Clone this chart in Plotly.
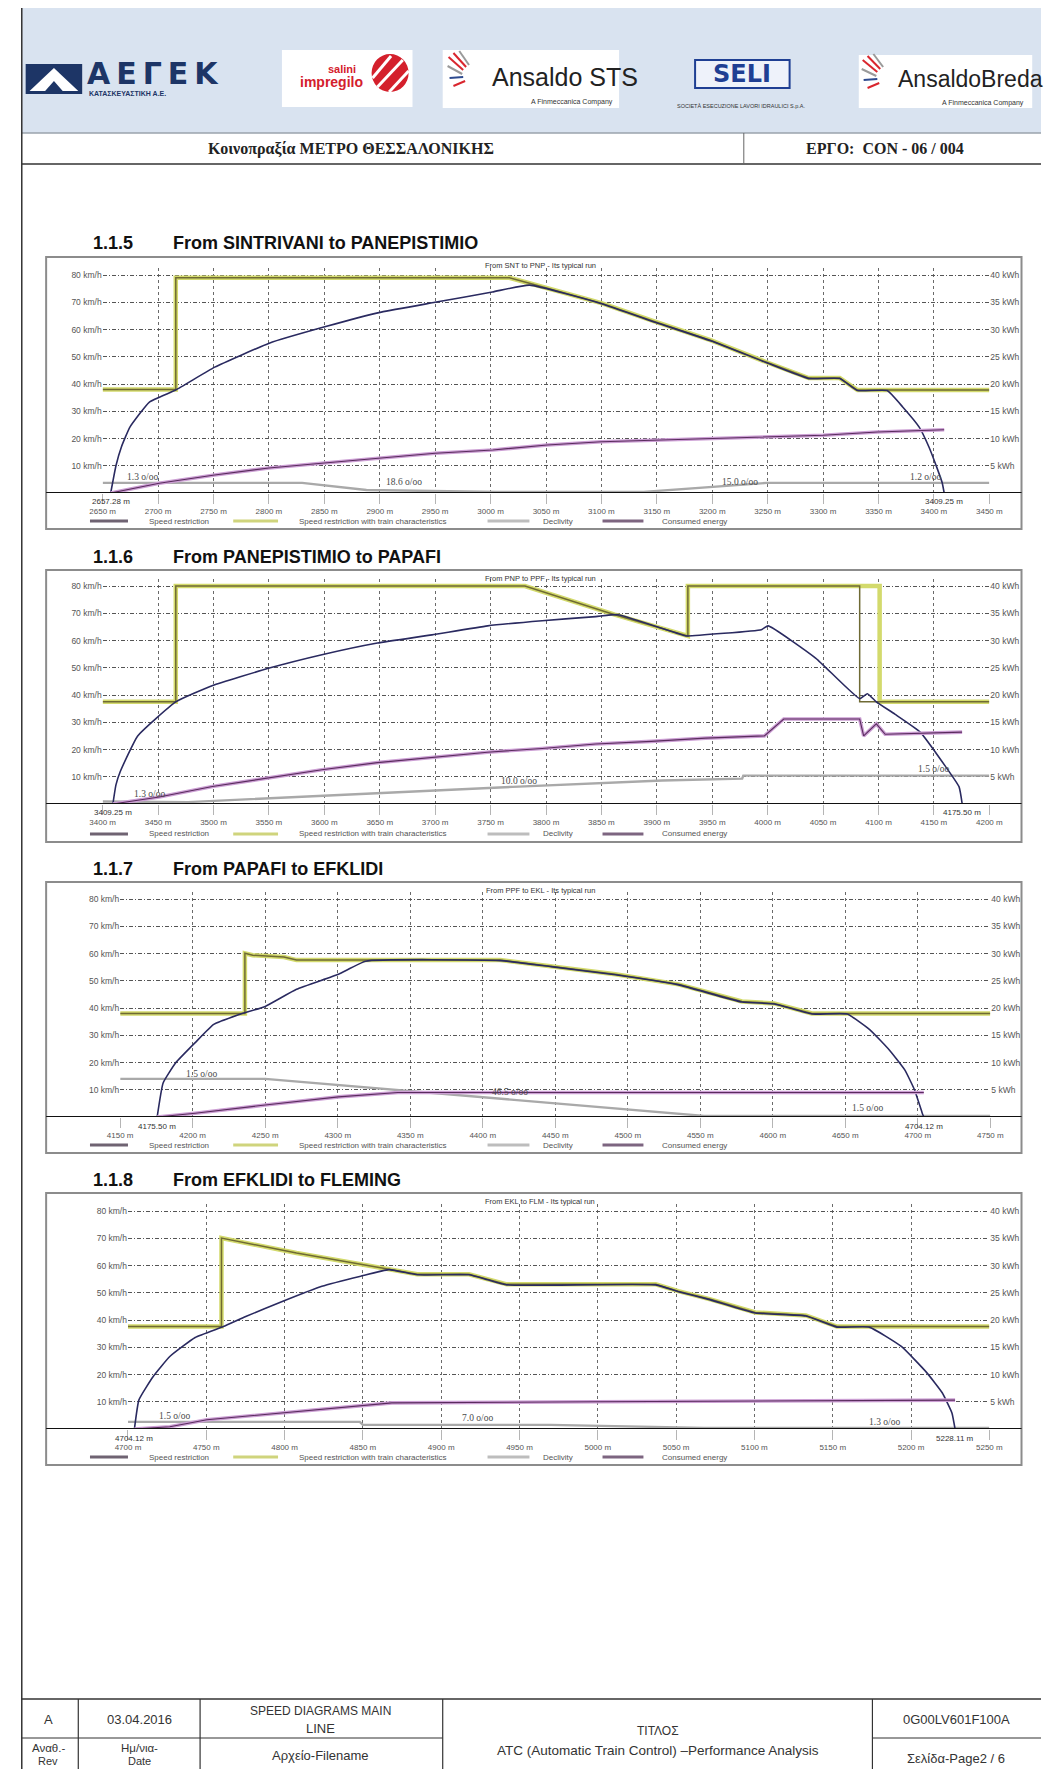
import plotly.graph_objects as go

W, H = 1055, 1769


def PX(x):
    return x / W


def PY(y):
    return 1 - y / H


# ===================== DATA =====================
# ---- 1.1.5 From SINTRIVANI to PANEPISTIMIO ----
c1_ticks = list(range(2650, 3451, 50))
c1_start, c1_end = 2657.28, 3409.25
c1_restr_d = [2650, 2716, 2716, 3017, 3035, 3100, 3149, 3199, 3249, 3287, 3315, 3331, 3450]
c1_restr_v = [38, 38, 79, 79, 77, 69.7, 62.8, 56, 48, 42.2, 42.2, 37.8, 37.8]
c1_sr_d = c1_restr_d
c1_sr_v = c1_restr_v
c1_speed_d = [2657.28, 2662, 2667, 2674.6, 2692.2, 2715.9, 2751.1, 2800.3, 2850.4, 2901.4, 2949.8, 3001.6, 3035,
              3100, 3149, 3199, 3249, 3287, 3315, 3331, 3357.7, 3371.8, 3386.7, 3395.5, 3402.5, 3407.5, 3409.25]
c1_speed_v = [0, 10, 17, 24.2, 33.4, 37.8, 46.2, 55, 61, 66.4, 70, 73.8, 76.3,
              69.5, 62.6, 55.8, 47.8, 42, 42, 37.6, 37.6, 31.6, 24.2, 16.9, 9.5, 3.7, 0]
c1_energy_d = [2657.28, 2701, 2751, 2800, 2850, 2901, 2950, 3002, 3051, 3100, 3149, 3199, 3249, 3300, 3349, 3409.25]
c1_energy_v = [0, 1.8, 3.3, 4.6, 5.5, 6.4, 7.3, 7.9, 8.8, 9.4, 9.7, 9.9, 10.3, 10.6, 11.2, 11.6]
c1_decl_d = [2650, 2830, 2888, 3006, 3138, 3199, 3249, 3450]
c1_decl_v = [3.7, 3.7, 1.1, 0.4, 0.4, 2.2, 3.7, 3.7]
c1_decl_labels = ["1.3 o/oo", "18.6 o/oo", "15.0 o/oo", "1.2 o/oo"]
c1_decl_label_d = [2686, 2922, 3225, 3392]
c1_decl_label_v = [6, 4, 4, 6]

# ---- 1.1.6 From PANEPISTIMIO to PAPAFI ----
c2_ticks = list(range(3400, 4201, 50))
c2_start, c2_end = 3409.25, 4175.50
c2_restr_d = [3400, 3466, 3466, 3781, 3862, 3926, 3928, 3928, 4101, 4101, 4200]
c2_restr_v = [37.5, 37.5, 80, 80, 69.5, 61.7, 61.7, 80, 80, 37.5, 37.5]
c2_sr_d = [3400, 3466, 3466, 3781, 3862, 3926, 3928, 3928, 4083, 4083, 4200]
c2_sr_v = [37.5, 37.5, 80, 80, 69.5, 61.7, 61.7, 80, 80, 37.5, 37.5]
c2_speed_d = [3409.25, 3412, 3416, 3431.6, 3466, 3499.3, 3549.5, 3597.8, 3647.9, 3697.1, 3747.3, 3796.5, 3844.8,
              3865, 3926, 3928, 3994.3, 4000.4, 4043.5, 4083, 4090, 4098, 4114.7, 4137.6, 4160.4, 4172.7, 4175.5]
c2_speed_v = [0, 7, 12, 25, 37.5, 43.5, 49.8, 54.8, 59.1, 62.1, 65.4, 67.3, 68.8,
              69.5, 61.7, 61.7, 64, 65.4, 53.5, 38.7, 40.5, 37.5, 33, 26.4, 13.8, 6.3, 0]
c2_energy_d = [3409.25, 3451, 3499, 3549.5, 3597.8, 3647.9, 3697, 3747, 3796.5, 3844.8, 3895, 3944, 3997,
               4014.5, 4083, 4086.6, 4098, 4106, 4175.4]
c2_energy_v = [0, 1.3, 3.2, 4.8, 6.3, 7.6, 8.6, 9.5, 10.2, 11.0, 11.5, 12.1, 12.5,
               15.6, 15.6, 12.5, 14.7, 12.8, 13.2]
c2_decl_d = [3400, 3477, 3770, 3905, 3977, 3978, 4200]
c2_decl_v = [0.9, 0.7, 6.3, 8.6, 9.3, 10.4, 10.4]
c2_decl_labels = ["1.3 o/oo", "10.0 o/oo", "1.5 o/oo"]
c2_decl_label_d = [3442, 3776, 4150]
c2_decl_label_v = [3.5, 8.4, 12.8]

# ---- 1.1.7 From PAPAFI to EFKLIDI ----
c3_ticks = list(range(4150, 4751, 50))
c3_start, c3_end = 4175.50, 4704.12
c3_restr_d = [4150, 4236, 4236, 4241.4, 4262.9, 4271.6, 4412, 4447, 4491.4, 4535, 4578.7, 4601, 4627, 4750]
c3_restr_v = [38, 38, 60.1, 59.4, 58.7, 57.6, 57.6, 55.4, 52.4, 48.7, 42.4, 41.7, 38, 38]
c3_sr_d = c3_restr_d
c3_sr_v = c3_restr_v
c3_speed_d = [4175.5, 4179.6, 4188.3, 4201.7, 4214.5, 4232, 4250, 4271.6, 4300.5, 4319.3, 4412, 4447,
              4491.4, 4535, 4578.7, 4601, 4627, 4651.3, 4666.8, 4680.2, 4691, 4697.7, 4703, 4704.12]
c3_speed_v = [0, 12.5, 19.9, 27.3, 34, 37.6, 40.6, 46.9, 52.4, 57.2, 57.4, 55.2,
              52.2, 48.5, 42.2, 41.5, 37.8, 37.8, 32.1, 24.7, 17.3, 10, 1.5, 0]
c3_energy_d = [4175.5, 4201.7, 4250, 4300.5, 4341.5, 4704.12]
c3_energy_v = [0, 0.7, 2.2, 3.7, 4.5, 4.5]
c3_decl_d = [4150, 4250, 4552.7, 4750]
c3_decl_v = [14, 14, 0.4, 0.4]
c3_decl_labels = ["1.5 o/oo", "46.5 o/oo", "1.5 o/oo", "7.0 o/oo"]
c3_decl_label_d = [4206, 4419, 4665, 4759]
c3_decl_label_v = [15.8, 9.2, 3.3, 3.3]

# ---- 1.1.8 From EFKLIDI to FLEMING ----
c4_ticks = list(range(4700, 5251, 50))
c4_start, c4_end = 4704.12, 5228.11
c4_restr_d = [4700, 4759.7, 4759.7, 4807.6, 4848.6, 4866.7, 4884.7, 4917.7, 4929.5, 4941.9, 5037, 5051.4,
              5071.9, 5100.5, 5132.8, 5152.7, 5250]
c4_restr_v = [37.6, 37.6, 70.1, 64.6, 60.5, 58.7, 56.8, 56.8, 55, 53.1, 53.1, 50.6,
              47.6, 42.8, 41.7, 37.6, 37.6]
c4_sr_d = c4_restr_d
c4_sr_v = c4_restr_v
c4_speed_d = [4704.12, 4707, 4716, 4726.7, 4742.9, 4760.9, 4775.2, 4798.9, 4823.8, 4848.6, 4866.7, 4884.7,
              4917.7, 4929.5, 4941.9, 5037, 5051.4, 5071.9, 5100.5, 5132.8, 5152.7, 5173.3, 5193.8, 5210,
              5219.9, 5226.1, 5228.11]
c4_speed_v = [0, 10.7, 19.2, 26.6, 33.6, 37.6, 41.3, 46.9, 52.4, 56.1, 58.5, 56.6,
              56.6, 54.8, 52.9, 52.9, 50.4, 47.4, 42.6, 41.5, 37.4, 37.4, 30.3, 20.7,
              13.3, 5.9, 0]
c4_energy_d = [4704.12, 4726.7, 4750.4, 4798.9, 4848.6, 4868.5, 4998.5, 5228.11]
c4_energy_v = [0, 0.4, 1.7, 3.0, 4.4, 4.8, 5.0, 5.3]
c4_decl_d = [4700, 4848, 4850, 4970, 5068, 5250]
c4_decl_v = [2.6, 2.6, 1.5, 1.5, 0.4, 0.4]
c4_decl_labels = ["1.5 o/oo", "7.0 o/oo", "1.3 o/oo"]
c4_decl_label_d = [4730, 4923, 5183]
c4_decl_label_v = [4.8, 4.0, 2.6]

speed_ticks = [10, 20, 30, 40, 50, 60, 70, 80]
energy_ticks = [5, 10, 15, 20, 25, 30, 35, 40]

legend_names = ["Speed restriction", "Speed restriction with train characteristics", "Declivity", "Consumed energy"]

# ===================== LAYOUT HELPERS =====================
charts = [
    dict(n=1, sec="1.1.5", name="From SINTRIVANI to PANEPISTIMIO", inner="From SNT to PNP - Its typical run",
         ticks=c1_ticks, start=c1_start, end=c1_end,
         restr=(c1_restr_d, c1_restr_v), sr=(c1_sr_d, c1_sr_v), speed=(c1_speed_d, c1_speed_v),
         energy=(c1_energy_d, c1_energy_v), decl=(c1_decl_d, c1_decl_v),
         labels=(c1_decl_labels, c1_decl_label_d, c1_decl_label_v),
         x0=92, x1=1002, ybot=493, frame=(34, 257, 1035, 529), ty=243),
    dict(n=2, sec="1.1.6", name="From PANEPISTIMIO to PAPAFI", inner="From PNP to PPF - Its typical run",
         ticks=c2_ticks, start=c2_start, end=c2_end,
         restr=(c2_restr_d, c2_restr_v), sr=(c2_sr_d, c2_sr_v), speed=(c2_speed_d, c2_speed_v),
         energy=(c2_energy_d, c2_energy_v), decl=(c2_decl_d, c2_decl_v),
         labels=(c2_decl_labels, c2_decl_label_d, c2_decl_label_v),
         x0=92, x1=1002, ybot=804, frame=(34, 570, 1035, 842), ty=557),
    dict(n=3, sec="1.1.7", name="From PAPAFI to EFKLIDI", inner="From PPF to EKL - Its typical run",
         ticks=c3_ticks, start=c3_start, end=c3_end,
         restr=(c3_restr_d, c3_restr_v), sr=(c3_sr_d, c3_sr_v), speed=(c3_speed_d, c3_speed_v),
         energy=(c3_energy_d, c3_energy_v), decl=(c3_decl_d, c3_decl_v),
         labels=(c3_decl_labels, c3_decl_label_d, c3_decl_label_v),
         x0=110, x1=1003, ybot=1117, frame=(34, 882, 1035, 1153), ty=869),
    dict(n=4, sec="1.1.8", name="From EFKLIDI to FLEMING", inner="From EKL to FLM - Its typical run",
         ticks=c4_ticks, start=c4_start, end=c4_end,
         restr=(c4_restr_d, c4_restr_v), sr=(c4_sr_d, c4_sr_v), speed=(c4_speed_d, c4_speed_v),
         energy=(c4_energy_d, c4_energy_v), decl=(c4_decl_d, c4_decl_v),
         labels=(c4_decl_labels, c4_decl_label_d, c4_decl_label_v),
         x0=118, x1=1002, ybot=1429, frame=(34, 1193, 1035, 1465), ty=1180),
]

PLOT_H = 225
VMAX = 82.6
SMALL = dict(family="Liberation Sans Narrow, Liberation Sans, Arial", size=8, color="#555555")

fig = go.Figure()
layout = {}
shapes = []
annotations = []


def line_shape(x0, y0, x1, y1, color="#333333", width=1.5, dash=None):
    d = dict(type="line", xref="paper", yref="paper", x0=PX(x0), x1=PX(x1), y0=PY(y0), y1=PY(y1),
             line=dict(color=color, width=width))
    if dash:
        d["line"]["dash"] = dash
    return d


def rect_shape(x0, y0, x1, y1, fill=None, color=None, width=0):
    d = dict(type="rect", xref="paper", yref="paper", x0=PX(x0), x1=PX(x1), y0=PY(y1), y1=PY(y0),
             line=dict(color=color if color else "rgba(0,0,0,0)", width=width))
    d["fillcolor"] = fill if fill else "rgba(0,0,0,0)"
    return d


def text(x, y, s, size=12, color="#222222", family="Liberation Sans, Arial", xanchor="center",
         yanchor="middle", bold=False):
    return dict(xref="paper", yref="paper", x=PX(x), y=PY(y), text=("<b>%s</b>" % s) if bold else s,
                showarrow=False, xanchor=xanchor, yanchor=yanchor,
                font=dict(size=size, color=color, family=family))


for c in charts:
    n = c["n"]
    xn = "x" if n == 1 else "x%d" % n
    yl_i, yr_i = 2 * n - 1, 2 * n
    yl = "y" if yl_i == 1 else "y%d" % yl_i
    yr = "y%d" % yr_i
    xkey = "xaxis" if n == 1 else "xaxis%d" % n
    ylkey = "yaxis" if yl_i == 1 else "yaxis%d" % yl_i
    yrkey = "yaxis%d" % yr_i

    # traces
    fig.add_trace(go.Scatter(x=c["decl"][0], y=c["decl"][1], xaxis=xn, yaxis=yl, mode="lines",
                             line=dict(color="#a9a9a9", width=2.4), name="Declivity", hoverinfo="skip"))
    fig.add_trace(go.Scatter(x=c["restr"][0], y=c["restr"][1], xaxis=xn, yaxis=yl, mode="lines",
                             line=dict(color="#d3da6c", width=4.5),
                             name="Speed restriction with train characteristics", hoverinfo="skip"))
    fig.add_trace(go.Scatter(x=c["sr"][0], y=c["sr"][1], xaxis=xn, yaxis=yl, mode="lines",
                             line=dict(color="#6f6a34", width=1.5), name="Speed restriction",
                             hoverinfo="skip"))
    fig.add_trace(go.Scatter(x=c["speed"][0], y=c["speed"][1], xaxis=xn, yaxis=yl, mode="lines",
                             line=dict(color="#2a2a60", width=1.6, shape="spline", smoothing=0.4),
                             name="Speed", hoverinfo="skip"))
    fig.add_trace(go.Scatter(x=c["energy"][0], y=c["energy"][1], xaxis=xn, yaxis=yr, mode="lines",
                             line=dict(color="#cc9fd4", width=3.6), name="Consumed energy",
                             hoverinfo="skip"))
    fig.add_trace(go.Scatter(x=c["energy"][0], y=c["energy"][1], xaxis=xn, yaxis=yr, mode="lines",
                             line=dict(color="#5a2c5e", width=1.1), name="Consumed energy (line)",
                             hoverinfo="skip"))

    ticks = c["ticks"]
    dom_y = [PY(c["ybot"]), PY(c["ybot"] - PLOT_H)]
    layout[xkey] = dict(domain=[PX(c["x0"]), PX(c["x1"])], range=[ticks[0], ticks[-1]], anchor=yl,
                        tickmode="array", tickvals=ticks, ticktext=["%d m" % t for t in ticks],
                        showgrid=True, gridcolor="#6a6a6a", gridwidth=1, griddash="3px,3px",
                        ticks="outside", ticklen=10, tickcolor="#b5b5b5", tickwidth=1,
                        tickfont=SMALL, showline=False, zeroline=False, fixedrange=True)
    layout[ylkey] = dict(domain=dom_y, range=[0, VMAX], anchor=xn,
                         tickmode="array", tickvals=speed_ticks, ticktext=["%d km/h" % v for v in speed_ticks],
                         showgrid=True, gridcolor="#555555", gridwidth=1, griddash="4px,2px,1px,2px",
                         ticks="", tickfont=dict(SMALL, size=8.5), showline=False, zeroline=False,
                         fixedrange=True)
    layout[yrkey] = dict(range=[0, VMAX / 2], anchor=xn, overlaying=yl, side="right",
                         tickmode="array", tickvals=energy_ticks, ticktext=["%d kWh" % v for v in energy_ticks],
                         showgrid=False, ticks="", tickfont=dict(SMALL, size=8.5), showline=False,
                         zeroline=False, fixedrange=True)

    # frame and axis line
    fx0, fy0, fx1, fy1 = c["frame"]
    shapes.append(rect_shape(fx0, fy0, fx1, fy1, color="#8c8c8c", width=2))
    shapes.append(dict(type="line", xref="paper", yref=yl, x0=PX(fx0), x1=PX(fx1), y0=0, y1=0,
                       line=dict(color="#111111", width=2)))

    # legend row
    ly = fy1 - 8
    swatches = [(79, 118, "#6f6372"), (226, 272, "#cfd47c"), (487, 530, "#bdbdbd"), (605, 647, "#7d6580")]
    label_x = [138, 291, 542, 664]
    for (sx0, sx1, col), lx, name in zip(swatches, label_x, legend_names):
        shapes.append(line_shape(sx0, ly, sx1, ly, color=col, width=3))
        annotations.append(text(lx, ly, name, size=8, color="#555555",
                                family="Liberation Sans Narrow, Liberation Sans, Arial", xanchor="left"))

    # station labels
    for pos in (c["start"], c["end"]):
        annotations.append(dict(xref=xn, yref="paper", x=pos, y=PY(c["ybot"] + 9), text="%.2f m" % pos,
                                showarrow=False, xanchor="center", yanchor="middle",
                                font=dict(SMALL, size=8, color="#333333")))

    # declivity labels
    for s, d, v in zip(*c["labels"]):
        annotations.append(dict(xref=xn, yref=yl, x=d, y=v, text=s, showarrow=False,
                                xanchor="center", yanchor="middle",
                                font=dict(family="Liberation Serif, Times New Roman", size=9.5,
                                          color="#4a4a4a")))

    # inner chart title
    annotations.append(text(541, fy0 + 8, c["inner"], size=7.5, color="#333333",
                            family="Liberation Sans Narrow, Liberation Sans, Arial"))
    # section title
    annotations.append(text(80, c["ty"], c["sec"], size=18, color="#111111", xanchor="left", bold=True))
    annotations.append(text(162, c["ty"], c["name"], size=18, color="#111111", xanchor="left", bold=True))

# ===================== PAGE HEADER =====================
shapes.append(rect_shape(9, 8, 1055, 133, fill="#d9e3f0"))
shapes.append(line_shape(9, 133, 1055, 133, color="#9aa3ad", width=1.5))
shapes.append(line_shape(9, 164, 1055, 164, color="#333333", width=1.5))
shapes.append(line_shape(750, 133, 750, 164, color="#666666", width=1))
shapes.append(line_shape(9, 8, 9, 1769, color="#333333", width=1.5))

# AEGEK logo
shapes.append(rect_shape(13, 64, 71, 94, fill="#1d3566"))
shapes.append(dict(type="path", xref="paper", yref="paper",
                   path="M %f,%f L %f,%f L %f,%f Z" % (PX(17), PY(91), PX(42), PY(68), PX(67), PY(91)),
                   fillcolor="#ffffff", line=dict(width=0)))
shapes.append(dict(type="path", xref="paper", yref="paper",
                   path="M %f,%f L %f,%f L %f,%f Z" % (PX(33), PY(91), PX(42), PY(81), PX(51), PY(91)),
                   fillcolor="#1d3566", line=dict(width=0)))
annotations.append(text(74, 74, "Α\u2009Ε\u2009Γ\u2009Ε\u2009Κ", size=30, color="#1d3566",
                        family="DejaVu Sans, Liberation Sans", xanchor="left", bold=True))
annotations.append(text(76, 93, "ΚΑΤΑΣΚΕΥΑΣΤΙΚΗ Α.Ε.", size=7, color="#1d3566",
                        family="Liberation Sans, Arial", xanchor="left", bold=True))

# salini impregilo
shapes.append(rect_shape(276, 50, 410, 107, fill="#ffffff"))
annotations.append(text(338, 69, "salini", size=11, color="#d4202c", bold=True))
annotations.append(text(327, 82, "impregilo", size=14, color="#d4202c", bold=True))
shapes.append(dict(type="circle", xref="paper", yref="paper", x0=PX(368), x1=PX(406), y0=PY(92), y1=PY(54),
                   fillcolor="#d4202c", line=dict(width=0)))
for (a, b, cc, d) in [(369, 78, 388, 56), (374, 87, 400, 60), (386, 92, 406, 71)]:
    shapes.append(line_shape(a, b, cc, d, color="#ffffff", width=3))

# Ansaldo STS
shapes.append(rect_shape(441, 50, 622, 108, fill="#ffffff"))
for (a, b, cc, d, col) in [(447, 57, 462, 70, "#d9262e"), (452, 53, 465, 67, "#d9262e"),
                           (458, 51, 468, 65, "#9a9a9a"), (446, 66, 461, 74, "#9a9a9a"),
                           (448, 78, 462, 77, "#2d4a8f"), (452, 86, 464, 81, "#d9262e")]:
    shapes.append(line_shape(a, b, cc, d, color=col, width=2))
annotations.append(text(490, 77, "Ansaldo STS", size=25, color="#222222",
                        family="Liberation Sans Narrow, Liberation Sans", xanchor="left"))
annotations.append(text(618, 102, "A Finmeccanica Company", size=7, color="#333333", xanchor="right"))

# SELI
shapes.append(rect_shape(700, 60, 797, 88, fill="#eef2fa", color="#1f3f93", width=2))
annotations.append(text(748, 74, "SELI", size=24, color="#1f3f93", family="DejaVu Sans, Liberation Sans",
                        bold=True))
annotations.append(text(747, 106, "SOCIETÀ ESECUZIONE LAVORI IDRAULICI S.p.A.", size=5.5, color="#333333"))

# AnsaldoBreda
shapes.append(rect_shape(868, 55, 1046, 108, fill="#ffffff"))
for (a, b, cc, d, col) in [(872, 60, 887, 72, "#d9262e"), (877, 56, 890, 69, "#d9262e"),
                           (883, 54, 893, 67, "#9a9a9a"), (871, 69, 886, 76, "#9a9a9a"),
                           (873, 80, 887, 79, "#2d4a8f"), (877, 88, 889, 83, "#d9262e")]:
    shapes.append(line_shape(a, b, cc, d, color=col, width=2))
annotations.append(text(906, 79, "AnsaldoBreda", size=23, color="#222222",
                        family="Liberation Sans Narrow, Liberation Sans", xanchor="left"))
annotations.append(text(1040, 103, "A Finmeccanica Company", size=7, color="#333333", xanchor="right"))

annotations.append(text(347, 149, "Κοινοπραξία ΜΕΤΡΟ ΘΕΣΣΑΛΟΝΙΚΗΣ", size=16, color="#222222",
                        family="Liberation Serif, Times New Roman", bold=True))
annotations.append(text(895, 149, "ΕΡΓΟ:  CON - 06 / 004", size=16, color="#222222",
                        family="Liberation Serif, Times New Roman", bold=True))

# ===================== PAGE FOOTER =====================
shapes.append(line_shape(9, 1699, 1055, 1699, color="#333333", width=1.5))
shapes.append(line_shape(9, 1738, 441, 1738, color="#333333", width=1.2))
shapes.append(line_shape(882, 1738, 1055, 1738, color="#333333", width=1.2))
for xv in (67, 192, 441, 882):
    shapes.append(line_shape(xv, 1699, xv, 1769, color="#333333", width=1.2))

FF = "Liberation Sans, Arial"
annotations += [
    text(36, 1719, "A", size=13, color="#333333", family=FF),
    text(130, 1719, "03.04.2016", size=13, color="#333333", family=FF),
    text(316, 1711, "SPEED DIAGRAMS MAIN", size=12, color="#333333", family=FF),
    text(316, 1728, "LINE", size=13, color="#333333", family=FF),
    text(662, 1731, "ΤΙΤΛΟΣ", size=12, color="#333333", family=FF),
    text(968, 1719, "0G00LV601F100A", size=13, color="#333333", family=FF),
    text(36, 1748, "Αναθ.-", size=11.5, color="#333333", family=FF),
    text(36, 1761, "Rev", size=11, color="#333333", family=FF),
    text(130, 1748, "Ημ/νια-", size=11.5, color="#333333", family=FF),
    text(130, 1761, "Date", size=11, color="#333333", family=FF),
    text(316, 1755, "Αρχείο-Filename", size=13, color="#333333", family=FF),
    text(662, 1750, "ATC (Automatic Train Control) \u2013Performance Analysis", size=13.5, color="#333333",
         family=FF),
    text(968, 1758, "Σελίδα-Page2 / 6", size=13, color="#333333", family=FF),
]

fig.update_layout(
    width=W, height=H, autosize=False,
    margin=dict(l=0, r=0, t=0, b=0, pad=0),
    paper_bgcolor="#ffffff", plot_bgcolor="rgba(0,0,0,0)",
    showlegend=False, hovermode=False,
    shapes=shapes, annotations=annotations,
    **layout,
)

fig.write_html("out.html", config=dict(displayModeBar=False))
